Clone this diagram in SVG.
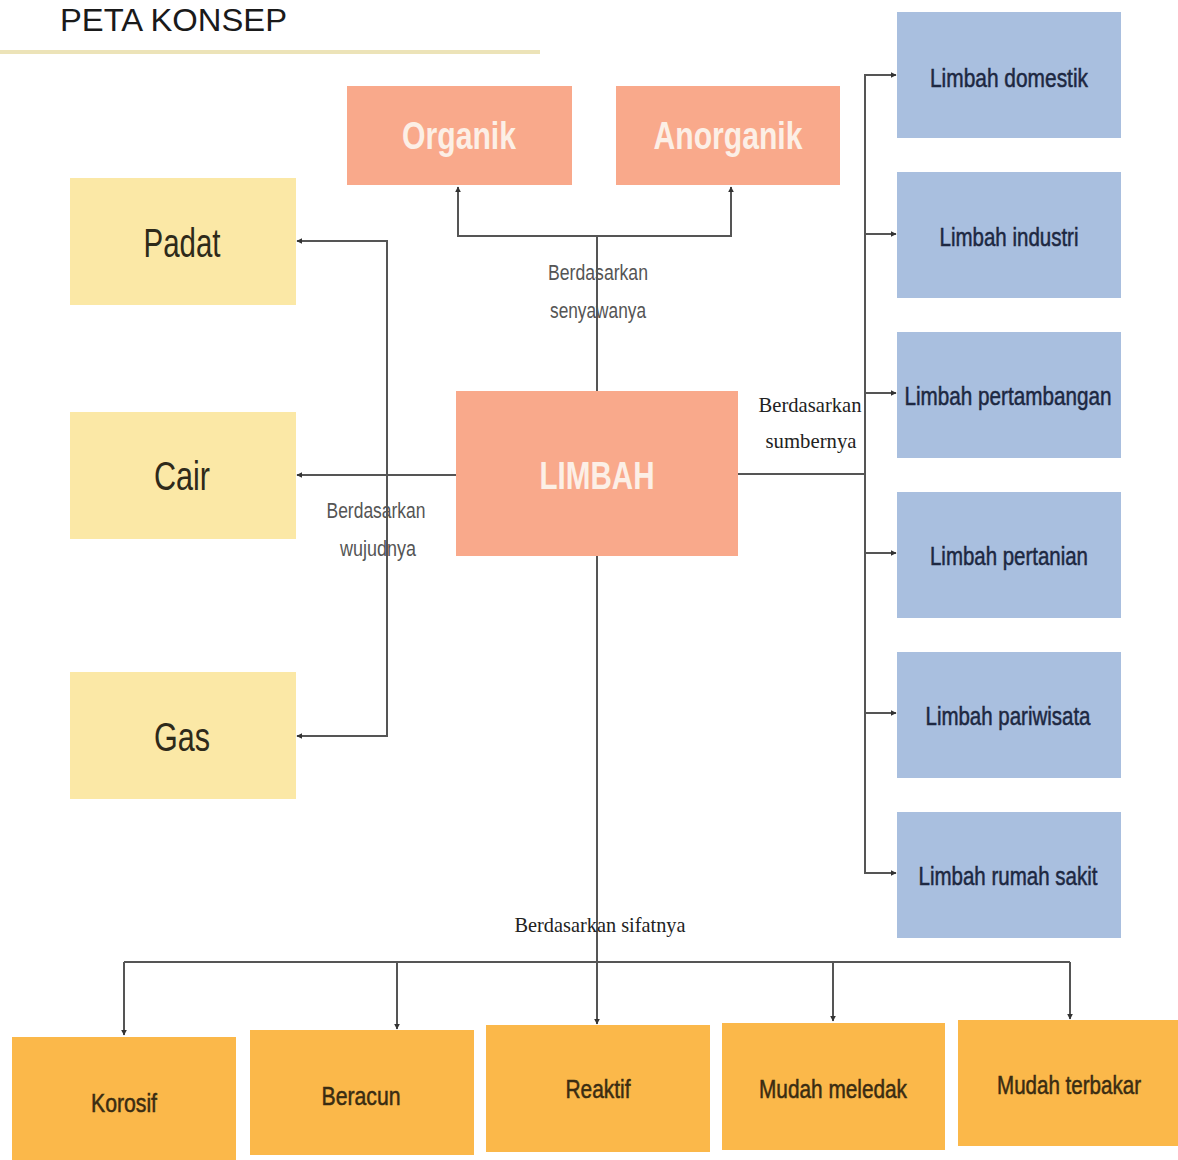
<svg xmlns="http://www.w3.org/2000/svg" width="1178" height="1160" viewBox="0 0 1178 1160">
<style>
.salmon{fill:#f9a98b}
.yellow{fill:#fbe8a6}
.blue{fill:#a9bfdf}
.orange{fill:#fbb84a}
.lt{font-family:"Liberation Sans",Arial,sans-serif;font-weight:bold;fill:#fcefe6;text-anchor:middle}
.yt{font-family:"Liberation Sans",Arial,sans-serif;fill:#2e2a1a;text-anchor:middle}
.bt{font-family:"Liberation Sans",Arial,sans-serif;fill:#1d2842;stroke:#1d2842;stroke-width:0.5;text-anchor:middle;font-size:25px}
.ot{font-family:"Liberation Sans",Arial,sans-serif;fill:#3a2c12;stroke:#3a2c12;stroke-width:0.5;text-anchor:middle;font-size:25px}
.lab{font-family:"Liberation Sans",Arial,sans-serif;fill:#555;font-size:22px;text-anchor:middle}
.slab{font-family:"Liberation Serif","Times New Roman",serif;fill:#222;font-size:21px;text-anchor:middle}
.conn line,.conn polyline{stroke:#555;stroke-width:2;fill:none}
</style>
<defs>
<marker id="ah" viewBox="0 0 10 10" refX="9" refY="5" markerWidth="6" markerHeight="6" orient="auto" markerUnits="userSpaceOnUse">
<path d="M0,0 L10,5 L0,10 z" fill="#333"/>
</marker>
</defs>
<rect width="1178" height="1160" fill="#ffffff"/>
<g id="title">
<text x="60" y="31" font-family="Liberation Sans,Arial,sans-serif" font-size="32" fill="#1a1a1a" textLength="227" lengthAdjust="spacingAndGlyphs">PETA KONSEP</text>
<line x1="0" y1="52" x2="540" y2="52" stroke="#ece3b8" stroke-width="4"/>
</g>
<g class="conn">
<polyline points="597,391 597,236 458,236 458,187" marker-end="url(#ah)"/>
<polyline points="597,236 731,236 731,187" marker-end="url(#ah)"/>
<line x1="456" y1="475" x2="297" y2="475" marker-end="url(#ah)"/>
<polyline points="387,475 387,241 297,241" marker-end="url(#ah)"/>
<polyline points="387,475 387,736 297,736" marker-end="url(#ah)"/>
<line x1="738" y1="474" x2="865" y2="474"/>
<line x1="865" y1="74" x2="865" y2="874"/>
<line x1="865" y1="75" x2="896" y2="75" marker-end="url(#ah)"/>
<line x1="865" y1="234" x2="896" y2="234" marker-end="url(#ah)"/>
<line x1="865" y1="393" x2="896" y2="393" marker-end="url(#ah)"/>
<line x1="865" y1="553" x2="896" y2="553" marker-end="url(#ah)"/>
<line x1="865" y1="713" x2="896" y2="713" marker-end="url(#ah)"/>
<line x1="865" y1="873" x2="896" y2="873" marker-end="url(#ah)"/>
<line x1="597" y1="556" x2="597" y2="1024" marker-end="url(#ah)"/>
<line x1="124" y1="962" x2="1070" y2="962"/>
<line x1="124" y1="962" x2="124" y2="1035" marker-end="url(#ah)"/>
<line x1="397" y1="962" x2="397" y2="1029" marker-end="url(#ah)"/>
<line x1="833" y1="962" x2="833" y2="1021" marker-end="url(#ah)"/>
<line x1="1070" y1="962" x2="1070" y2="1019" marker-end="url(#ah)"/>
</g>
<g id="labels">
<text class="lab" x="598" y="280" textLength="100" lengthAdjust="spacingAndGlyphs">Berdasarkan</text>
<text class="lab" x="598" y="318" textLength="96" lengthAdjust="spacingAndGlyphs">senyawanya</text>
<text class="lab" x="376" y="518" textLength="99" lengthAdjust="spacingAndGlyphs">Berdasarkan</text>
<text class="lab" x="378" y="556" textLength="76" lengthAdjust="spacingAndGlyphs">wujudnya</text>
<text class="slab" x="810" y="412" textLength="103" lengthAdjust="spacingAndGlyphs">Berdasarkan</text>
<text class="slab" x="811" y="448" textLength="91" lengthAdjust="spacingAndGlyphs">sumbernya</text>
<text class="slab" x="600" y="932" textLength="171" lengthAdjust="spacingAndGlyphs">Berdasarkan sifatnya</text>
</g>
<g id="limbah"><rect class="salmon" x="456" y="391" width="282" height="165"/><text class="lt" x="597" y="489" font-size="38" textLength="115" lengthAdjust="spacingAndGlyphs">LIMBAH</text></g>
<g id="organik"><rect class="salmon" x="347" y="86" width="225" height="99"/><text class="lt" x="459" y="149" font-size="38" textLength="114" lengthAdjust="spacingAndGlyphs">Organik</text></g>
<g id="anorganik"><rect class="salmon" x="616" y="86" width="224" height="99"/><text class="lt" x="728" y="149" font-size="38" textLength="149" lengthAdjust="spacingAndGlyphs">Anorganik</text></g>
<g id="padat"><rect class="yellow" x="70" y="178" width="226" height="127"/><text class="yt" x="182" y="257" font-size="40" textLength="77" lengthAdjust="spacingAndGlyphs">Padat</text></g>
<g id="cair"><rect class="yellow" x="70" y="412" width="226" height="127"/><text class="yt" x="182" y="490" font-size="40" textLength="56" lengthAdjust="spacingAndGlyphs">Cair</text></g>
<g id="gas"><rect class="yellow" x="70" y="672" width="226" height="127"/><text class="yt" x="182" y="751" font-size="40" textLength="56" lengthAdjust="spacingAndGlyphs">Gas</text></g>
<g id="domestik"><rect class="blue" x="897" y="12" width="224" height="126"/><text class="bt" x="1009" y="87" textLength="158" lengthAdjust="spacingAndGlyphs">Limbah domestik</text></g>
<g id="industri"><rect class="blue" x="897" y="172" width="224" height="126"/><text class="bt" x="1009" y="246" textLength="139" lengthAdjust="spacingAndGlyphs">Limbah industri</text></g>
<g id="pertambangan"><rect class="blue" x="897" y="332" width="224" height="126"/><text class="bt" x="1008" y="405" textLength="207" lengthAdjust="spacingAndGlyphs">Limbah pertambangan</text></g>
<g id="pertanian"><rect class="blue" x="897" y="492" width="224" height="126"/><text class="bt" x="1009" y="565" textLength="158" lengthAdjust="spacingAndGlyphs">Limbah pertanian</text></g>
<g id="pariwisata"><rect class="blue" x="897" y="652" width="224" height="126"/><text class="bt" x="1008" y="725" textLength="165" lengthAdjust="spacingAndGlyphs">Limbah pariwisata</text></g>
<g id="rumahsakit"><rect class="blue" x="897" y="812" width="224" height="126"/><text class="bt" x="1008" y="885" textLength="179" lengthAdjust="spacingAndGlyphs">Limbah rumah sakit</text></g>
<g id="korosif"><rect class="orange" x="12" y="1037" width="224" height="123"/><text class="ot" x="124" y="1112" textLength="66" lengthAdjust="spacingAndGlyphs">Korosif</text></g>
<g id="beracun"><rect class="orange" x="250" y="1030" width="224" height="125"/><text class="ot" x="361" y="1105" textLength="79" lengthAdjust="spacingAndGlyphs">Beracun</text></g>
<g id="reaktif"><rect class="orange" x="486" y="1025" width="224" height="127"/><text class="ot" x="598" y="1098" textLength="65" lengthAdjust="spacingAndGlyphs">Reaktif</text></g>
<g id="meledak"><rect class="orange" x="722" y="1023" width="223" height="127"/><text class="ot" x="833" y="1098" textLength="148" lengthAdjust="spacingAndGlyphs">Mudah meledak</text></g>
<g id="terbakar"><rect class="orange" x="958" y="1020" width="220" height="126"/><text class="ot" x="1069" y="1094" textLength="144" lengthAdjust="spacingAndGlyphs">Mudah terbakar</text></g>
</svg>
